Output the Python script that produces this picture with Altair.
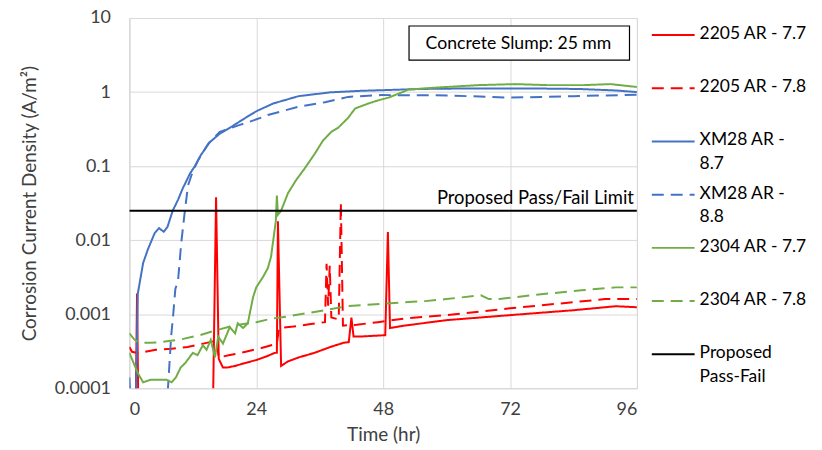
import altair as alt
import pandas as pd

# Series names, colours and dash patterns (Excel-style palette)
SERIES = ["2205 AR - 7.7", "2205 AR - 7.8", "XM28 AR - 8.7", "XM28 AR - 8.8",
          "2304 AR - 7.7", "2304 AR - 7.8", "Proposed Pass-Fail"]
LEGEND_LABELS = ["2205 AR - 7.7", "2205 AR - 7.8", "XM28 AR -\n8.7", "XM28 AR -\n8.8",
                 "2304 AR - 7.7", "2304 AR - 7.8", "Proposed\nPass-Fail"]
COLORS = ["#FF0000", "#FF0000", "#4472C4", "#4472C4", "#70AD47", "#70AD47", "#000000"]
DASHES = [[1, 0], [12, 7], [1, 0], [12, 7], [1, 0], [12, 7], [1, 0]]

# Corrosion current density (A/m^2) versus time (hr); values under 1e-4 fall below the axis floor
t_2205_77 = [0, 1.2, 1.45, 1.7, 15.8, 16.4, 16.9, 17.7, 18.5, 20, 22, 24, 26, 27.5, 27.9, 28.1,
             28.7, 30, 32, 35, 38, 40.5, 41.5, 42.0, 42.4, 44, 48.4, 48.9, 49.3, 52, 60, 72,
             84, 92, 96]
i_2205_77 = [0.00005, 0.00005, 0.0019, 0.00005, 0.00005, 0.038, 0.00025, 0.00019, 0.00019,
             0.0002, 0.00022, 0.00024, 0.00027, 0.0003, 0.0003, 0.018, 0.0002, 0.00023,
             0.00026, 0.0003, 0.00036, 0.00041, 0.00042, 0.0009, 0.0005, 0.0005, 0.00052,
             0.0129, 0.00065, 0.0007, 0.00083, 0.00097, 0.00113, 0.00128, 0.00124]

t_2205_78 = [0, 0.5, 1.5, 3, 5, 8, 11, 14, 16.5, 16.9, 19, 22, 25, 27.9, 28.3, 31, 34, 37.0,
             37.3, 37.6, 37.9, 38.2, 39.6, 40.0, 40.4, 43, 47, 52.5, 60, 72, 84, 90, 96]
i_2205_78 = [0.00036, 0.00031, 0.0003, 0.00031, 0.00033, 0.00034, 0.00036, 0.0004, 0.00044,
             0.00026, 0.00028, 0.00031, 0.00035, 0.0004, 0.00065, 0.00068, 0.00073, 0.00078,
             0.0048, 0.0013, 0.0045, 0.0009, 0.00085, 0.032, 0.0007, 0.00072, 0.00078,
             0.00088, 0.00097, 0.0012, 0.00145, 0.0016, 0.0016]

t_xm28_87 = [0, 0.3, 1.2, 1.6, 2.6, 3.5, 4.8, 5.6, 6.5, 7.2, 8.2, 9.2, 10.1, 11.5, 12.4, 13.5,
             15.2, 17, 19.6, 22, 24, 27.2, 32, 38, 44, 48, 55, 65, 75, 85, 92, 96]
i_xm28_87 = [0.00014, 0.00005, 0.00005, 0.0019, 0.0049, 0.0075, 0.0125, 0.0145, 0.013, 0.015,
             0.025, 0.035, 0.05, 0.08, 0.1, 0.14, 0.21, 0.27, 0.35, 0.45, 0.55, 0.7, 0.88,
             0.99, 1.04, 1.06, 1.1, 1.12, 1.12, 1.1, 1.05, 1.0]

t_xm28_88 = [6.8, 7.3, 7.9, 8.3, 8.7, 9.2, 9.8, 10.5, 11.1, 12, 13, 14.9, 17.1, 18.3, 20.9,
             22.4, 25.3, 26.2, 31.9, 37, 41.4, 47.6, 60, 72, 84, 96]
i_xm28_88 = [0.00005, 0.0001, 0.0005, 0.001, 0.0022, 0.0028, 0.009, 0.025, 0.055, 0.085, 0.12,
             0.2, 0.29, 0.31, 0.36, 0.39, 0.46, 0.49, 0.63, 0.73, 0.86, 0.91, 0.9, 0.84, 0.88,
             0.92]

t_2304_77 = [0, 1.6, 2.6, 4, 6, 7, 8, 8.8, 9.7, 10.6, 12, 12.9, 13.9, 14.6, 15.4, 16.2, 16.8,
             17.7, 19, 20, 20.5, 21.5, 22.4, 23.4, 24, 25.3, 26.2, 26.8, 27.7, 27.9, 28.1,
             28.7, 30, 31.5, 33.3, 35.1, 36.6, 38.2, 39.5, 41.4, 42.7, 45.2, 47, 49, 51.4,
             52.8, 55.8, 60, 66, 73, 79, 86, 91, 96]
i_2304_77 = [0.0003, 0.00016, 0.00012, 0.00013, 0.00013, 0.00013, 0.00012, 0.00014, 0.00019,
             0.00022, 0.0003, 0.00028, 0.00038, 0.00033, 0.00045, 0.00026, 0.0005, 0.0004,
             0.00067, 0.00055, 0.00075, 0.00065, 0.00075, 0.0017, 0.0023, 0.0032, 0.0042,
             0.006, 0.018, 0.04, 0.022, 0.025, 0.043, 0.064, 0.096, 0.148, 0.22, 0.29, 0.33,
             0.45, 0.6, 0.7, 0.77, 0.84, 0.98, 1.08, 1.12, 1.17, 1.24, 1.28, 1.24, 1.24, 1.28,
             1.17]

t_2304_78 = [0, 1, 2, 4, 6, 8.2, 10, 13.3, 16.2, 19.6, 24, 27.2, 28.6, 35, 41.4, 47.6, 52.7,
             56, 60, 66.5, 68, 70, 76, 85.5, 92, 96]
i_2304_78 = [0.00055, 0.00045, 0.00041, 0.00041, 0.00042, 0.00044, 0.00046, 0.00052, 0.0006,
             0.0007, 0.00078, 0.00088, 0.0009, 0.00107, 0.00129, 0.00138, 0.00146, 0.0015,
             0.0016, 0.0018, 0.0016, 0.0016, 0.0018, 0.0021, 0.0023, 0.0023]

PASS_FAIL = 0.025
X_TICKS = [0, 24, 48, 72, 96]
Y_TICKS = [0.0001, 0.001, 0.01, 0.1, 1, 10]
NOTE = "Concrete Slump: 25 mm"

FONT = "Lato"
TEXT = "#404040"

series_data = [
    (SERIES[0], t_2205_77, i_2205_77),
    (SERIES[1], t_2205_78, i_2205_78),
    (SERIES[2], t_xm28_87, i_xm28_87),
    (SERIES[3], t_xm28_88, i_xm28_88),
    (SERIES[4], t_2304_77, i_2304_77),
    (SERIES[5], t_2304_78, i_2304_78),
    (SERIES[6], [X_TICKS[0], X_TICKS[-1]], [PASS_FAIL, PASS_FAIL]),
]
rows = []
for name, ts, vs in series_data:
    for k, (t, v) in enumerate(zip(ts, vs)):
        rows.append({"series": name, "t": t, "v": v, "k": k})
df = pd.DataFrame(rows)

color_scale = alt.Scale(domain=SERIES, range=COLORS)
dash_scale = alt.Scale(domain=SERIES, range=DASHES)

x_enc = alt.X("t:Q", scale=alt.Scale(domain=[X_TICKS[0], X_TICKS[-1]], nice=False),
              axis=alt.Axis(values=X_TICKS, title="Time (hr)", grid=True, ticks=False,
                            labelPadding=12, titlePadding=8))
y_enc = alt.Y("v:Q", scale=alt.Scale(type="log", domain=[Y_TICKS[0], Y_TICKS[-1]], nice=False),
              axis=alt.Axis(values=Y_TICKS, format="~g", grid=True, ticks=False,
                            title="Corrosion Current Density  (A/m²)",
                            labelPadding=19, titlePadding=15))

lines = alt.Chart(df).mark_line(strokeWidth=2, clip=True).encode(
    x=x_enc,
    y=y_enc,
    color=alt.Color("series:N", scale=color_scale, legend=None),
    strokeDash=alt.StrokeDash("series:N", scale=dash_scale, legend=None),
    order=alt.Order("k:Q"),
)

limit_label = alt.Chart(pd.DataFrame({"t": [X_TICKS[-1]], "v": [PASS_FAIL],
                                      "label": ["Proposed Pass/Fail Limit"]})).mark_text(
    align="right", baseline="bottom", dx=-3, dy=-3, fontSize=18.5, font=FONT, color="#000000"
).encode(x="t:Q", y="v:Q", text="label:N")

# annotation box (data coordinates) with the slump note
box_df = pd.DataFrame({"t": [52.9], "t2": [94.6], "v": [2.7], "v2": [7.8]})
note_box = alt.Chart(box_df).mark_rect(fill="#FFFFFF", stroke="#000000", strokeWidth=1.2).encode(
    x="t:Q", x2="t2:Q", y="v:Q", y2="v2:Q")
note_text = alt.Chart(pd.DataFrame({"t": [73.6], "v": [4.5], "label": [NOTE]})).mark_text(
    align="center", baseline="middle", fontSize=17.7, font=FONT, color="#000000"
).encode(x="t:Q", y="v:Q", text="label:N")

main = alt.layer(lines, limit_label, note_box, note_text).properties(width=510, height=372)

# legend panel drawn with its own scales
leg_rows = []
leg_text = []
for i, (name, lab) in enumerate(zip(SERIES, LEGEND_LABELS)):
    leg_rows.append({"series": name, "row": i, "x": 0})
    leg_rows.append({"series": name, "row": i, "x": 43})
    leg_text.append({"series": name, "row": i, "x": 48, "label": lab})
leg_df = pd.DataFrame(leg_rows)
leg_tdf = pd.DataFrame(leg_text)

n = len(SERIES)
ly = alt.Y("row:Q", scale=alt.Scale(domain=[-0.318, n - 0.364], reverse=True, nice=False,
                                     zero=False), axis=None)
lx = alt.X("x:Q", scale=alt.Scale(domain=[0, 170], nice=False), axis=None)

leg_lines = alt.Chart(leg_df).mark_line(strokeWidth=2).encode(
    x=lx, y=ly,
    color=alt.Color("series:N", scale=color_scale, legend=None),
    strokeDash=alt.StrokeDash("series:N", scale=dash_scale, legend=None),
    detail="series:N",
)
leg_labels = alt.Chart(leg_tdf).mark_text(
    align="left", baseline="top", dy=-10, fontSize=17.5, font=FONT, color="#000000",
    lineBreak="\n", lineHeight=24
).encode(x=lx, y=ly, text="label:N")

legend = alt.layer(leg_lines, leg_labels).properties(
    width=170, height=372, view=alt.ViewBackground(stroke="transparent"))

chart = alt.hconcat(main, legend, spacing=9).resolve_scale(
    x="independent", y="independent"
).properties(
    padding={"left": 20, "top": 7, "right": 0, "bottom": 0}
).configure(
    font=FONT
).configure_view(
    stroke="#D9D9D9", strokeWidth=1
).configure_axis(
    labelFont=FONT, titleFont=FONT, labelFontSize=18, titleFontSize=19,
    labelColor=TEXT, titleColor=TEXT, titleFontWeight="normal",
    gridColor="#D9D9D9", gridWidth=1, domainColor="#D9D9D9", domainWidth=1
)

chart.save("out.html", embed_options={"renderer": "svg", "actions": False})
